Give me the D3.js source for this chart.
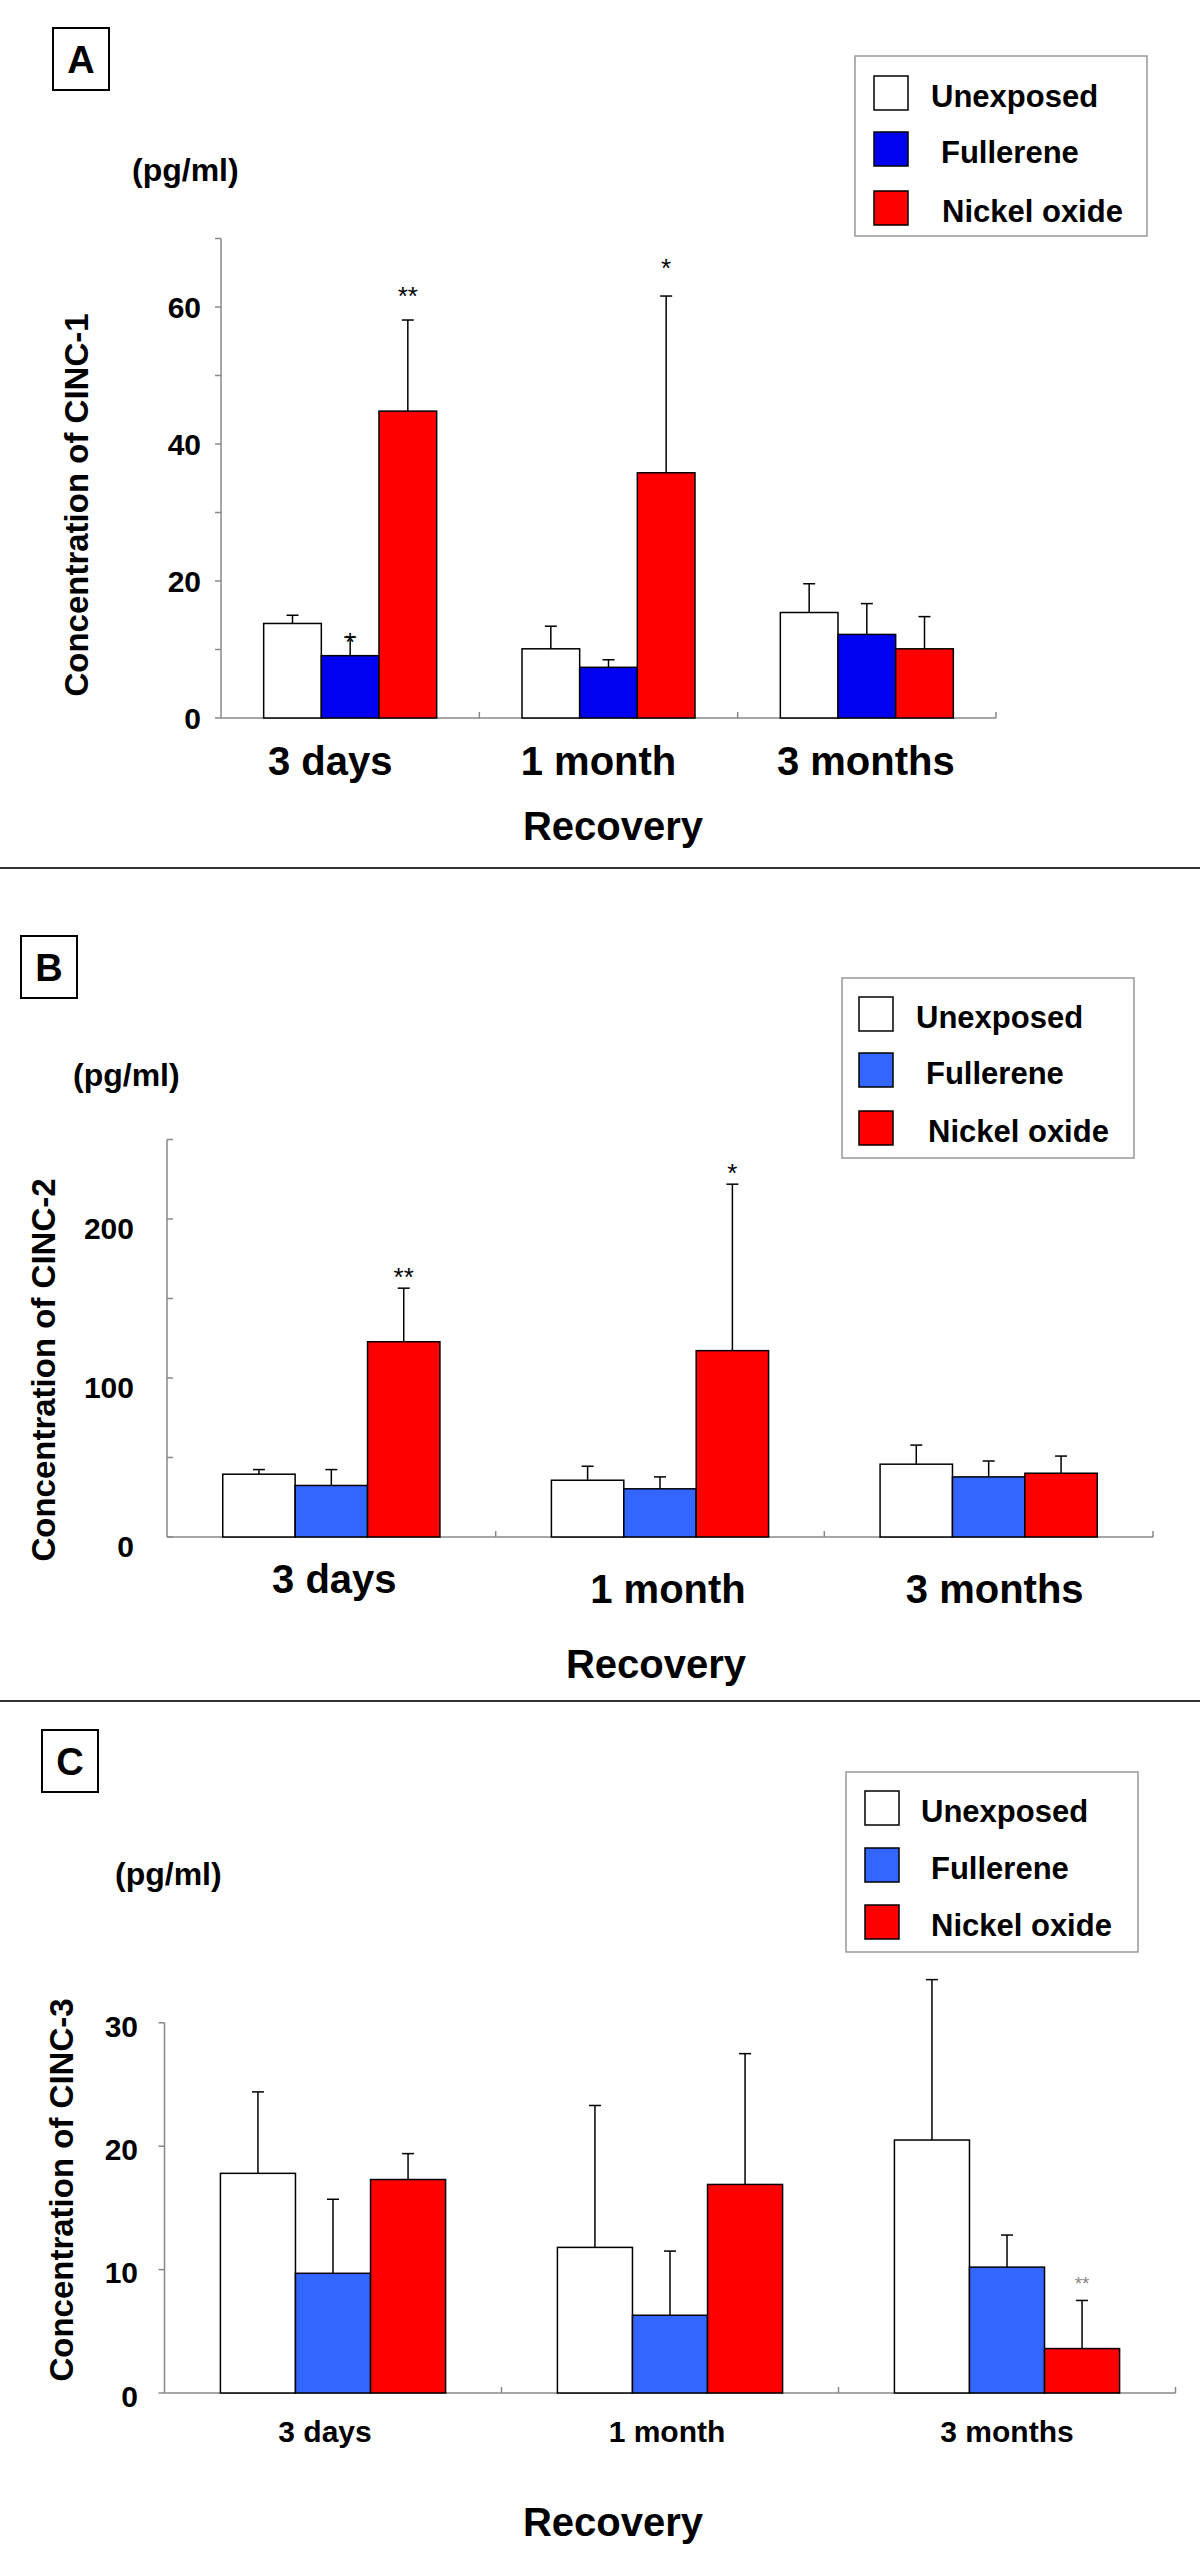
<!DOCTYPE html>
<html>
<head>
<meta charset="utf-8">
<script src="https://cdn.jsdelivr.net/npm/d3@7"></script>
<style>
  body { margin: 0; background: #fff; }
  text { font-family: "Liberation Sans", Arial, sans-serif; font-weight: bold; fill: #000; }
</style>
</head>
<body>
<div id="container"></div>
<script>
const groups = ["3 days", "1 month", "3 months"];
const series = ["Unexposed", "Fullerene", "Nickel oxide"];

// Panel A: CINC-1, mean and SD, one row per recovery time
const cinc1Mean = [[13.8, 9.1, 44.8], [10.1, 7.4, 35.8], [15.4, 12.2, 10.1]];
const cinc1Sd = [[1.2, 2.7, 13.3], [3.3, 1.1, 25.8], [4.2, 4.5, 4.7]];
const cinc1Stars = [[0, 1, "*"], [0, 2, "**"], [1, 2, "*"]];
const cinc1Ticks = [0, 20, 40, 60];

// Panel B: CINC-2
const cinc2Mean = [[39.5, 32.4, 122.8], [35.7, 30.3, 117.2], [45.8, 37.8, 40.1]];
const cinc2Sd = [[2.9, 10.0, 33.7], [8.8, 7.5, 104.7], [12.0, 10.0, 10.8]];
const cinc2Stars = [[0, 2, "**"], [1, 2, "*"]];
const cinc2Ticks = [0, 100, 200];

// Panel C: CINC-3
const cinc3Mean = [[17.8, 9.7, 17.3], [11.8, 6.3, 16.9], [20.5, 10.2, 3.6]];
const cinc3Sd = [[6.6, 6.0, 2.1], [11.5, 5.2, 10.6], [13.0, 2.6, 3.9]];
const cinc3Stars = [[2, 2, "**"]];
const cinc3Ticks = [0, 10, 20, 30];

const panels = [
  {
    letter: "A", yTitle: "Concentration of CINC-1",
    mean: cinc1Mean, sd: cinc1Sd, stars: cinc1Stars, ticks: cinc1Ticks,
    yMax: 70, minorStep: 10, x0: 221, x1: 996, yZero: 718, yTop: 238.5, pad: 0.74,
    colors: ["#ffffff", "#0000f0", "#ff0000"],
    letterBox: [53, 28], pg: [132, 181], title: [76, 505],
    legend: [855, 56], swatchX: 19, rowY: [20, 76, 135], textX: [76, 86, 87],
    catY: [775, 775, 775], catDx: [-20, -10, -1], catSize: 40, rec: [613, 840],
    labelRight: 201, labelDy: 0, tickDir: -1,
    starSize: 26, starColor: "#000", starGap: [1, 30, 34]
  },
  {
    letter: "B", yTitle: "Concentration of CINC-2",
    mean: cinc2Mean, sd: cinc2Sd, stars: cinc2Stars, ticks: cinc2Ticks,
    yMax: 250, minorStep: 50, x0: 167, x1: 1153, yZero: 1537, yTop: 1139.5, pad: 0.77,
    colors: ["#ffffff", "#3366ff", "#ff0000"],
    letterBox: [21, 936], pg: [73, 1086], title: [43, 1370],
    legend: [842, 978], swatchX: 17, rowY: [19, 75, 133], textX: [74, 84, 86],
    catY: [1593, 1603, 1603], catDx: [3, 8, 6], catSize: 40, rec: [656, 1678],
    labelRight: 134, labelDy: 9, tickDir: 1,
    starSize: 26, starColor: "#000", starGap: [17, 17]
  },
  {
    letter: "C", yTitle: "Concentration of CINC-3",
    mean: cinc3Mean, sd: cinc3Sd, stars: cinc3Stars, ticks: cinc3Ticks,
    yMax: 30, minorStep: 10, x0: 164.5, x1: 1175.5, yZero: 2393, yTop: 2022.8, pad: 0.745,
    colors: ["#ffffff", "#3366ff", "#ff0000"],
    letterBox: [42, 1730], pg: [115, 1885], title: [61.5, 2190],
    legend: [846, 1772], swatchX: 19, rowY: [19, 76, 133], textX: [75, 85, 85],
    catY: [2442, 2442, 2442], catDx: [-8, -3, 0], catSize: 30, rec: [613, 2536],
    labelRight: 138, labelDy: 3, tickDir: -1,
    starSize: 19, starColor: "#888", starGap: [21]
  }
];

const svg = d3.select("#container").append("svg")
  .attr("width", 1200)
  .attr("height", 2552)
  .style("display", "block");

svg.append("rect").attr("width", 1200).attr("height", 2552).attr("fill", "#fff");

// separators between the panels
svg.selectAll("line.sep")
  .data([868, 1701])
  .enter().append("line")
  .attr("x1", 0).attr("x2", 1200)
  .attr("y1", d => d).attr("y2", d => d)
  .attr("stroke", "#333").attr("stroke-width", 2);

panels.forEach(p => {
  const g = svg.append("g");

  const x = d3.scaleBand().domain(groups).range([p.x0, p.x1]);
  const xs = d3.scaleBand().domain(series).range([0, x.bandwidth()]).paddingOuter(p.pad);
  const y = d3.scaleLinear().domain([0, p.yMax]).range([p.yZero, p.yTop]);
  const colour = d3.scaleOrdinal().domain(series).range(p.colors);

  // panel letter box
  g.append("rect")
    .attr("x", p.letterBox[0]).attr("y", p.letterBox[1])
    .attr("width", 56).attr("height", 62)
    .attr("fill", "#fff").attr("stroke", "#000").attr("stroke-width", 2);
  g.append("text")
    .attr("x", p.letterBox[0] + 28).attr("y", p.letterBox[1] + 45)
    .attr("text-anchor", "middle").style("font-size", "38px")
    .text(p.letter);

  // unit
  g.append("text")
    .attr("x", p.pg[0]).attr("y", p.pg[1])
    .style("font-size", "32px")
    .text("(pg/ml)");

  // y title
  g.append("text")
    .attr("transform", `translate(${p.title[0]},${p.title[1]}) rotate(-90)`)
    .attr("text-anchor", "middle").attr("dy", "0.35em")
    .style("font-size", "33px")
    .text(p.yTitle);

  // y axis
  const minor = d3.range(0, p.yMax + 0.001, p.minorStep);
  g.append("line")
    .attr("x1", p.x0).attr("x2", p.x0)
    .attr("y1", y(0)).attr("y2", y(p.yMax))
    .attr("stroke", "#888").attr("stroke-width", 1.5);
  g.selectAll("line.ytick")
    .data(minor).enter().append("line")
    .attr("x1", p.x0).attr("x2", p.x0 + 6 * p.tickDir)
    .attr("y1", d => y(d)).attr("y2", d => y(d))
    .attr("stroke", "#888").attr("stroke-width", 1.5);
  g.selectAll("text.ylab")
    .data(p.ticks).enter().append("text")
    .attr("x", p.labelRight)
    .attr("y", d => y(d) + p.labelDy)
    .attr("dy", "0.36em")
    .attr("text-anchor", "end")
    .style("font-size", "30px")
    .text(d => d);

  // x axis with separators
  g.append("line")
    .attr("x1", p.x0).attr("x2", p.x1)
    .attr("y1", y(0)).attr("y2", y(0))
    .attr("stroke", "#888").attr("stroke-width", 1.5);
  g.selectAll("line.xtick")
    .data(groups.slice(1).map(d => x(d)).concat([p.x1]))
    .enter().append("line")
    .attr("x1", d => d).attr("x2", d => d)
    .attr("y1", y(0)).attr("y2", y(0) - 6)
    .attr("stroke", "#888").attr("stroke-width", 1.5);

  // bars
  const cells = [];
  groups.forEach((grp, i) => series.forEach((s, j) => {
    cells.push({ grp, s, i, j, v: p.mean[i][j], sd: p.sd[i][j] });
  }));

  g.selectAll("rect.bar")
    .data(cells).enter().append("rect")
    .attr("x", d => x(d.grp) + xs(d.s))
    .attr("y", d => y(d.v))
    .attr("width", xs.bandwidth())
    .attr("height", d => y(0) - y(d.v))
    .attr("fill", d => colour(d.s))
    .attr("stroke", "#000").attr("stroke-width", 1.5);

  // error bars (upper only)
  const eb = g.selectAll("g.err").data(cells).enter().append("g");
  eb.append("line")
    .attr("x1", d => x(d.grp) + xs(d.s) + xs.bandwidth() / 2)
    .attr("x2", d => x(d.grp) + xs(d.s) + xs.bandwidth() / 2)
    .attr("y1", d => y(d.v)).attr("y2", d => y(d.v + d.sd))
    .attr("stroke", "#000").attr("stroke-width", 1.5);
  eb.append("line")
    .attr("x1", d => x(d.grp) + xs(d.s) + xs.bandwidth() / 2 - 6)
    .attr("x2", d => x(d.grp) + xs(d.s) + xs.bandwidth() / 2 + 6)
    .attr("y1", d => y(d.v + d.sd)).attr("y2", d => y(d.v + d.sd))
    .attr("stroke", "#000").attr("stroke-width", 1.5);

  // significance marks
  g.selectAll("text.star")
    .data(p.stars).enter().append("text")
    .attr("x", d => x(groups[d[0]]) + xs(series[d[1]]) + xs.bandwidth() / 2)
    .attr("y", (d, k) => y(p.mean[d[0]][d[1]] + p.sd[d[0]][d[1]]) - p.starGap[k] + 0.575 * p.starSize)
    .attr("text-anchor", "middle")
    .style("font-size", p.starSize + "px")
    .style("font-weight", "normal")
    .style("fill", p.starColor)
    .text(d => d[2]);

  // category labels
  g.selectAll("text.cat")
    .data(groups).enter().append("text")
    .attr("x", (d, i) => x(d) + x.bandwidth() / 2 + p.catDx[i])
    .attr("y", (d, i) => p.catY[i])
    .attr("text-anchor", "middle")
    .style("font-size", p.catSize + "px")
    .text(d => d);

  g.append("text")
    .attr("x", p.rec[0]).attr("y", p.rec[1])
    .attr("text-anchor", "middle")
    .style("font-size", "40px")
    .text("Recovery");

  // legend
  const lg = g.append("g").attr("transform", `translate(${p.legend[0]},${p.legend[1]})`);
  lg.append("rect")
    .attr("width", 292).attr("height", 180)
    .attr("fill", "#fff").attr("stroke", "#999").attr("stroke-width", 1.5);
  lg.selectAll("rect.sw")
    .data(series).enter().append("rect")
    .attr("x", p.swatchX)
    .attr("y", (d, i) => p.rowY[i])
    .attr("width", 34).attr("height", 34)
    .attr("fill", d => colour(d))
    .attr("stroke", "#000").attr("stroke-width", 1.5);
  lg.selectAll("text.lt")
    .data(series).enter().append("text")
    .attr("x", (d, i) => p.textX[i])
    .attr("y", (d, i) => p.rowY[i] + 31)
    .style("font-size", "31px")
    .text(d => d);
});
</script>
</body>
</html>
